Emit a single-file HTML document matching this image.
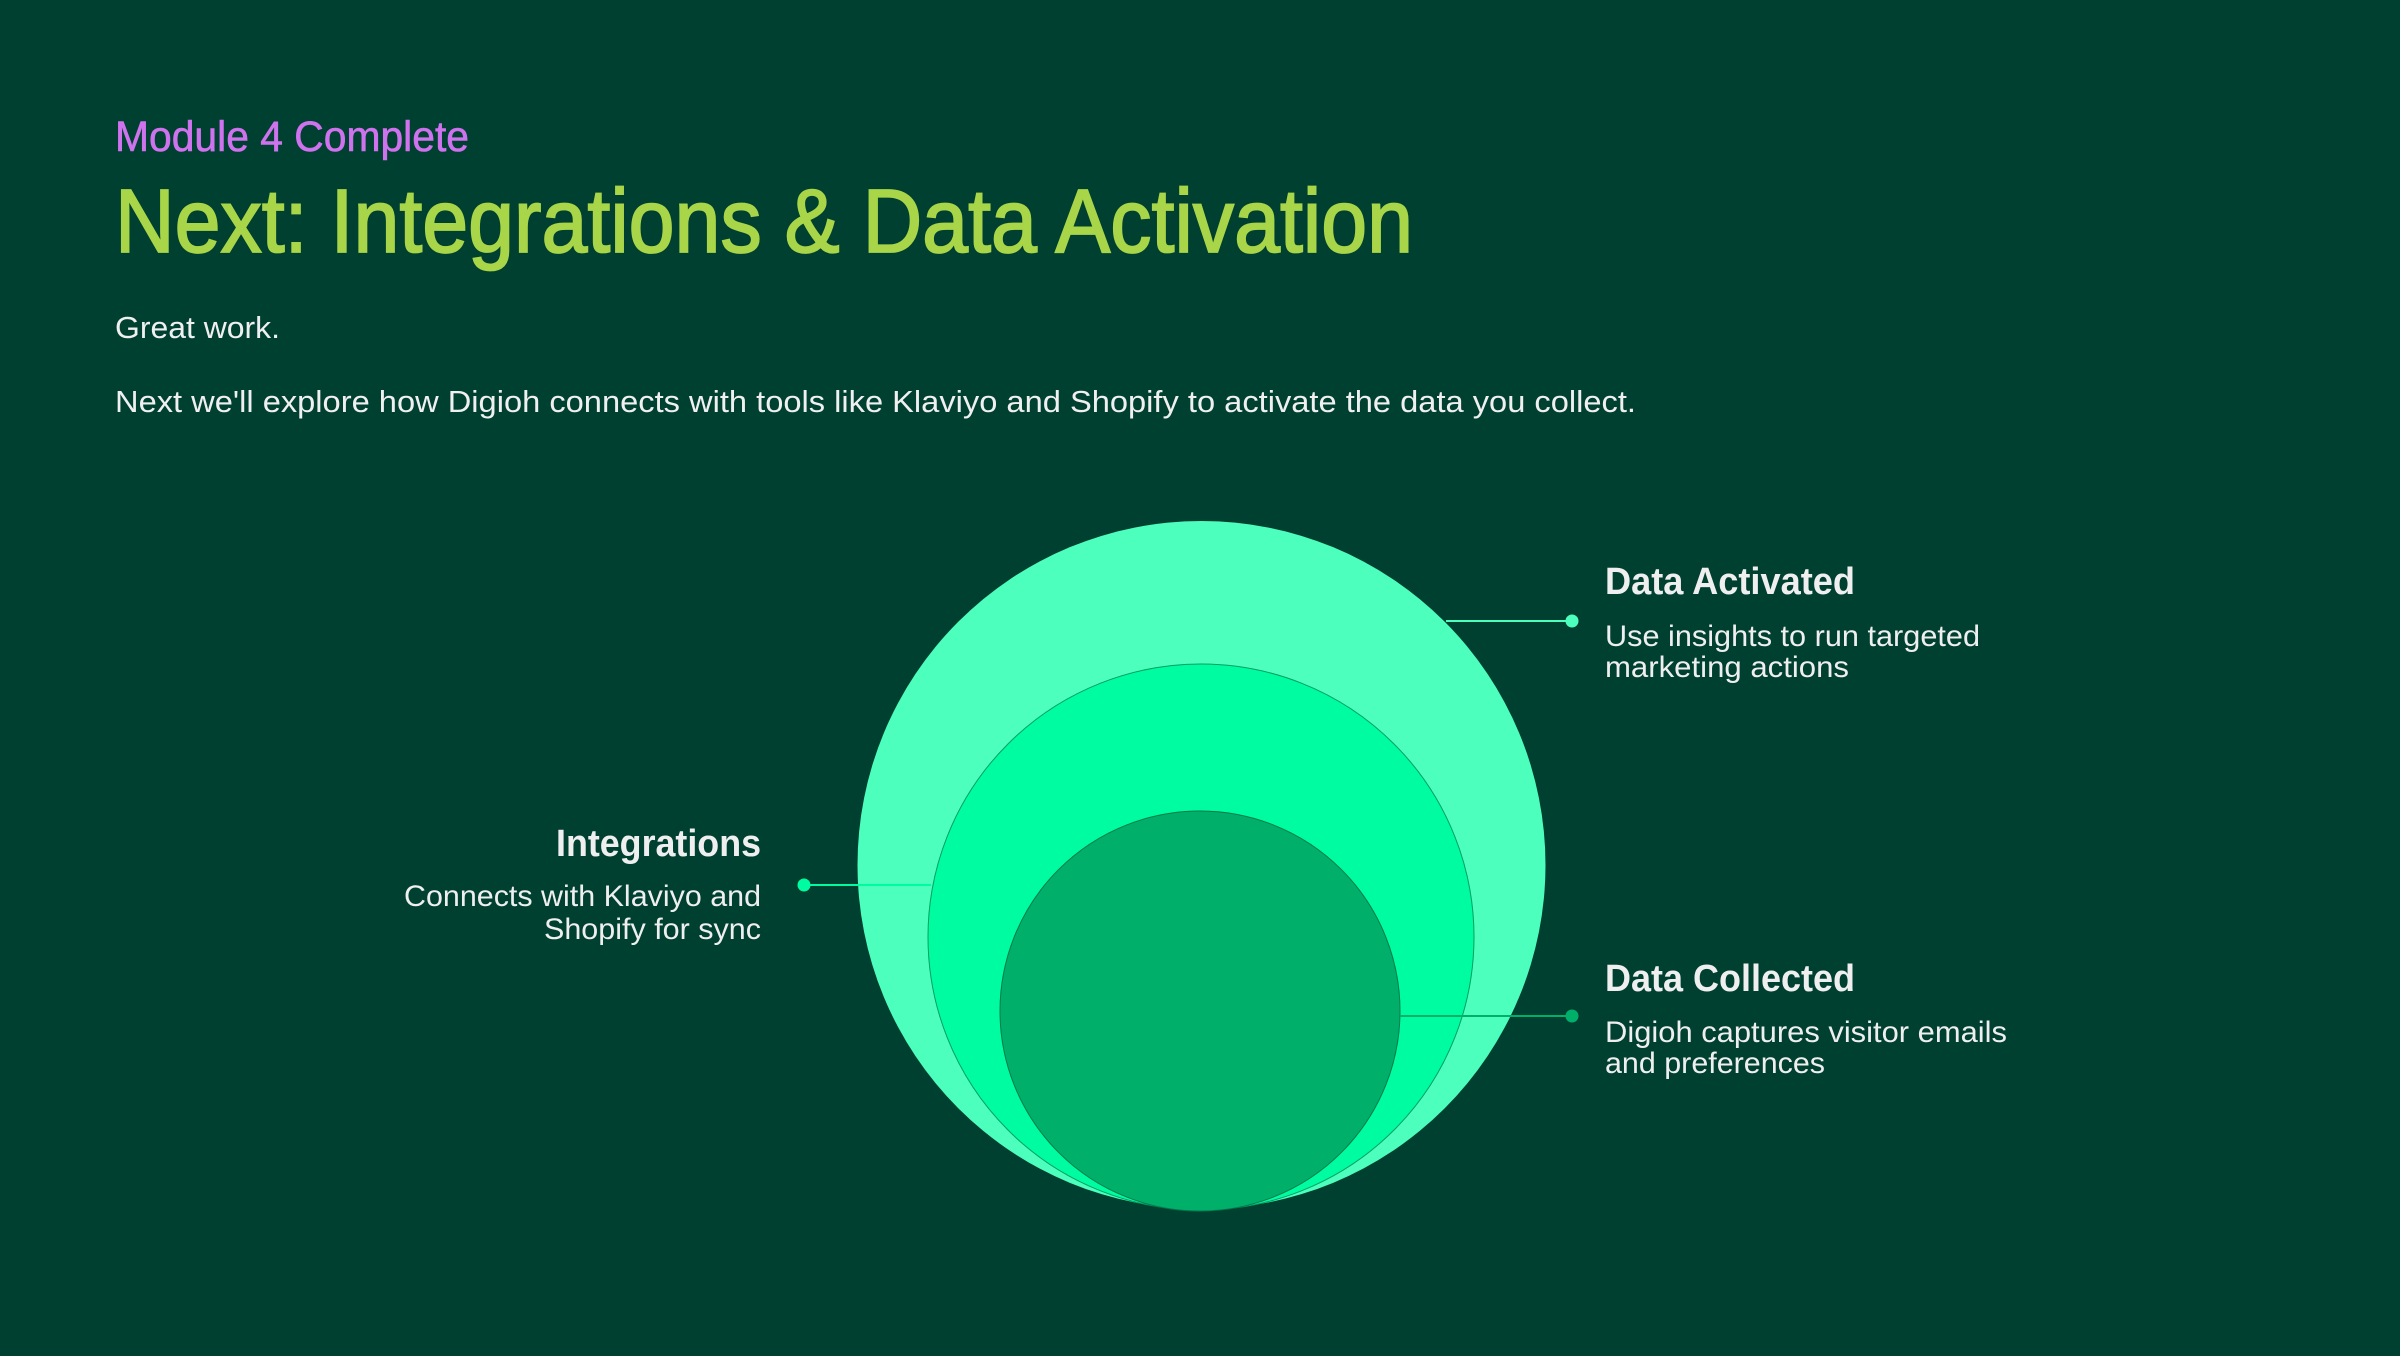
<!DOCTYPE html>
<html><head><meta charset="utf-8"><style>
html,body{margin:0;padding:0;background:#004030;}
svg{display:block}
text{font-family:"Liberation Sans",sans-serif;}
</style></head><body>
<svg width="2400" height="1356" viewBox="0 0 2400 1356" xmlns="http://www.w3.org/2000/svg">
<rect width="2400" height="1356" fill="#004030"/>
<text x="115" y="151" font-size="43" fill="#cf72ee" stroke="#cf72ee" stroke-width="0.6" textLength="354" lengthAdjust="spacingAndGlyphs">Module 4 Complete</text>
<text x="115" y="252" font-size="90" fill="#a9d548" stroke="#a9d548" stroke-width="1.8" textLength="1298" lengthAdjust="spacingAndGlyphs">Next: Integrations &amp; Data Activation</text>
<text x="115" y="338" font-size="31" fill="#f0f0f0" textLength="165" lengthAdjust="spacingAndGlyphs">Great work.</text>
<text x="115" y="412" font-size="31" fill="#f0f0f0" textLength="1521" lengthAdjust="spacingAndGlyphs">Next we'll explore how Digioh connects with tools like Klaviyo and Shopify to activate the data you collect.</text>

<circle cx="1201.5" cy="865" r="344" fill="#4dffbd"/>
<circle cx="1201" cy="937" r="273" fill="#00fca0" stroke="#00a060" stroke-width="1"/>
<circle cx="1200" cy="1011" r="200" fill="#00b06a" stroke="#007a4a" stroke-width="1"/>

<line x1="1446" y1="621" x2="1572" y2="621" stroke="#4dffbd" stroke-width="2"/>
<circle cx="1572" cy="621" r="6.5" fill="#4dffbd"/>
<line x1="1400" y1="1016" x2="1572" y2="1016" stroke="#00b06a" stroke-width="2"/>
<circle cx="1572" cy="1016" r="6.5" fill="#00b06a"/>
<line x1="804" y1="885" x2="931" y2="885" stroke="#00fca0" stroke-width="2"/>
<circle cx="804" cy="885" r="6.5" fill="#00fca0"/>

<text x="1605" y="594" font-size="38" font-weight="bold" fill="#efefef" textLength="250" lengthAdjust="spacingAndGlyphs">Data Activated</text>
<text x="1605" y="646" font-size="30" fill="#efefef" textLength="375" lengthAdjust="spacingAndGlyphs">Use insights to run targeted</text>
<text x="1605" y="677" font-size="30" fill="#efefef" textLength="244" lengthAdjust="spacingAndGlyphs">marketing actions</text>

<text x="1605" y="991" font-size="38" font-weight="bold" fill="#efefef" textLength="250" lengthAdjust="spacingAndGlyphs">Data Collected</text>
<text x="1605" y="1042" font-size="30" fill="#efefef" textLength="402" lengthAdjust="spacingAndGlyphs">Digioh captures visitor emails</text>
<text x="1605" y="1073" font-size="30" fill="#efefef" textLength="220" lengthAdjust="spacingAndGlyphs">and preferences</text>

<text x="556" y="856" font-size="38" font-weight="bold" fill="#efefef" textLength="205" lengthAdjust="spacingAndGlyphs">Integrations</text>
<text x="404" y="906" font-size="30" fill="#efefef" textLength="357" lengthAdjust="spacingAndGlyphs">Connects with Klaviyo and</text>
<text x="544" y="939" font-size="30" fill="#efefef" textLength="217" lengthAdjust="spacingAndGlyphs">Shopify for sync</text>
</svg>
</body></html>
